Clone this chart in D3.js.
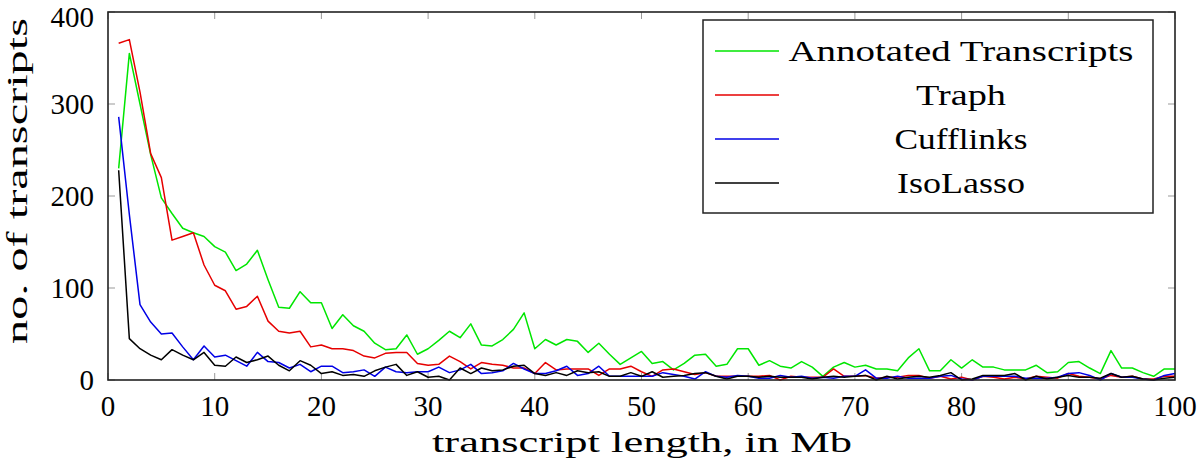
<!DOCTYPE html>
<html><head><meta charset="utf-8">
<script src="https://cdn.jsdelivr.net/npm/d3@7"></script>
<style>body{margin:0;background:#fff}svg{display:block}</style>
</head><body>
<svg id="c" width="1200" height="463" font-family="'Liberation Serif', 'DejaVu Serif', Tinos, 'Noto Serif', FreeSerif, 'Nimbus Roman', 'Times New Roman', Times, serif"></svg>
<script>
const lengths = d3.range(1, 101);
const annotated = [230,355,300,245,198,181,165,160,156,145,139,119,126,141,109,79,78,96,84,84,56,71,59,53,40,33,34,49,28,34,43,53,46,61,38,37,44,55,73,34,44,38,44,42,30,40,28,17,24,31,18,20,11,18,27,28,15,17,34,34,16,21,15,13,20,14,4,14,19,14,16,12,12,10,24,34,10,10,22,13,22,14,14,11,11,11,16,8,9,19,20,13,7,32,13,13,8,4,12,12];
const traph = [366,370,313,246,220,152,156,160,125,103,97,77,80,91,64,53,51,53,36,38,34,34,32,26,24,29,30,30,18,16,17,26,20,12,19,17,16,13,13,7,19,11,12,12,12,5,12,12,15,9,4,11,12,9,6,8,4,4,4,4,4,5,0,4,3,3,3,12,4,4,5,2,3,3,5,5,2,4,1,3,0,4,3,1,3,1,4,3,2,7,4,3,1,5,3,4,1,1,4,4];
const cufflinks = [286,180,82,63,50,51,36,22,37,25,27,21,15,30,20,19,13,17,9,15,15,8,9,11,4,14,9,8,9,9,14,8,11,17,7,8,10,18,12,7,7,10,15,5,7,15,4,4,4,4,4,8,6,4,1,9,4,3,5,4,2,2,5,3,4,2,3,2,4,4,11,2,2,4,2,2,2,4,5,1,0,4,4,4,4,2,2,2,3,7,8,5,0,7,3,3,1,0,5,7];
const isolasso = [228,45,34,27,22,33,27,22,30,16,15,25,19,22,26,16,10,21,16,7,9,5,6,4,10,14,17,5,9,3,4,0,13,7,13,10,11,15,16,7,5,8,5,10,8,9,4,4,8,4,9,3,4,5,7,8,4,1,4,4,3,4,3,3,3,1,3,4,3,4,5,0,4,1,3,4,3,5,8,0,1,5,5,5,7,0,4,1,3,5,3,3,2,7,3,4,1,0,2,3];
const seriesNames = ["Annotated Transcripts","Traph","Cufflinks","IsoLasso"];
const seriesColors = ["#00e600","#e60000","#0000e6","#000000"];
const xTicks = [0,10,20,30,40,50,60,70,80,90,100];
const yTicks = [0,100,200,300,400];
const xTitle = "transcript length, in Mb";
const yTitle = "no. of transcripts";

const svg = d3.select("#c");
const L=108, R=1175, T=12, B=380;
const x = d3.scaleLinear().domain([0,100]).range([L,R]);
const y = d3.scaleLinear().domain([0,400]).range([B,T]);

// ticks (inward, grey)
const tk = 7;
const tg = svg.append("g").attr("stroke","#999").attr("stroke-width",1);
xTicks.forEach(v=>{
  tg.append("line").attr("x1",x(v)).attr("x2",x(v)).attr("y1",B).attr("y2",B-tk);
  tg.append("line").attr("x1",x(v)).attr("x2",x(v)).attr("y1",T).attr("y2",T+tk);
});
yTicks.forEach(v=>{
  tg.append("line").attr("y1",y(v)).attr("y2",y(v)).attr("x1",L).attr("x2",L+tk);
  tg.append("line").attr("y1",y(v)).attr("y2",y(v)).attr("x1",R).attr("x2",R-tk);
});

// series
const all = [annotated, traph, cufflinks, isolasso];
const line = d3.line().x((d,i)=>x(lengths[i])).y(d=>y(d));
all.forEach((s,k)=>{
  svg.append("path").datum(s).attr("d",line).attr("fill","none")
    .attr("stroke",seriesColors[k]).attr("stroke-width",1.5).attr("stroke-linejoin","round");
});

// frame
svg.append("rect").attr("x",L).attr("y",T).attr("width",R-L).attr("height",B-T)
  .attr("fill","none").attr("stroke","#222").attr("stroke-width",1.6);

// tick labels
const fs = 29;
svg.append("g").selectAll("text").data(xTicks).join("text")
  .attr("x",d=>x(d)).attr("y",416).attr("text-anchor","middle").attr("font-size",fs).text(d=>d);
svg.append("g").selectAll("text").data(yTicks).join("text")
  .attr("x",94).attr("y",d=>Math.max(y(d)+10,27)).attr("text-anchor","end").attr("font-size",fs).text(d=>d);

// titles
svg.append("text").attr("x",642).attr("y",452).attr("text-anchor","middle").attr("font-size",fs)
  .attr("textLength",420).attr("lengthAdjust","spacingAndGlyphs").text(xTitle);
svg.append("text").attr("transform","translate(27,181) rotate(-90)").attr("text-anchor","middle").attr("font-size",fs)
  .attr("textLength",326).attr("lengthAdjust","spacingAndGlyphs").text(yTitle);

// legend
const lg = svg.append("g");
lg.append("rect").attr("x",703).attr("y",20).attr("width",450).attr("height",193)
  .attr("fill","#fff").attr("stroke","#222").attr("stroke-width",1.5);
const rowY = [51,95,139,183];
const legW = [345, 90, 133, 128];
seriesNames.forEach((n,k)=>{
  lg.append("line").attr("x1",715).attr("x2",779).attr("y1",rowY[k]).attr("y2",rowY[k])
    .attr("stroke",seriesColors[k]).attr("stroke-width",1.5);
  lg.append("text").attr("x",961).attr("y",rowY[k]+10).attr("text-anchor","middle").attr("font-size",fs)
    .attr("textLength",legW[k]).attr("lengthAdjust","spacingAndGlyphs").text(n);
});
</script>
</body></html>
